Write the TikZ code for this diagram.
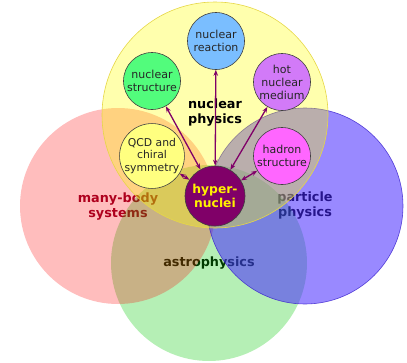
\documentclass[tikz,border=0pt]{standalone}
\usepackage{fontspec}
\setmainfont{DejaVu Sans}
\usepackage{tikz}
\usetikzlibrary{arrows.meta}
\usepackage{xcolor}
\definecolor{npyellow}{RGB}{255,255,0}
\definecolor{npline}{RGB}{230,215,70}
\definecolor{mbred}{RGB}{255,0,0}
\definecolor{mbtext}{RGB}{147,0,40}
\definecolor{astrogreen}{RGB}{0,200,0}
\definecolor{ppblue}{RGB}{70,40,255}
\definecolor{satblue}{RGB}{122,190,255}
\definecolor{satgreen}{RGB}{82,252,124}
\definecolor{satviolet}{RGB}{210,122,248}
\definecolor{satyellow}{RGB}{255,255,128}
\definecolor{satmagenta}{RGB}{255,102,255}
\definecolor{hyperpurple}{RGB}{128,0,104}
\begin{document}
\begin{tikzpicture}[x=1pt,y=-1pt,>={Stealth[length=6pt,width=4.5pt]},line cap=round,
  sat/.style={circle,draw=black!75,line width=0.6pt,minimum size=57pt,inner sep=0pt,
    align=center,font=\fontsize{11}{13}\selectfont,text=black!85},
  field/.style={align=center,inner sep=0pt,font=\fontsize{12.8}{15}\selectfont\bfseries},
  link/.style={<->,draw=hyperpurple,line width=1.3pt}]
\useasboundingbox (0,0) rectangle (407,362);
% field labels, lying under the circles
\node[field,text=mbtext] (manybody) at (118,207) {many-body\\systems};
\node[field] (particle) at (305,206) {particle\\physics};
\node[field] (astro) at (209,263) {astrophysics};
% the four fields
\fill[astrogreen,fill opacity=0.29] (209,263) circle (98pt);
\fill[mbred,fill opacity=0.26] (118,206) circle (98pt);
\filldraw[fill=ppblue,fill opacity=0.55,draw=ppblue!80!black,draw opacity=0.8,line width=0.6pt] (305,206) circle (98pt);
\filldraw[fill=npyellow,fill opacity=0.32,draw=npline,line width=0.6pt] (215,115) circle (113pt);
\node[field] (nucphys) at (215,113) {nuclear\\physics};
% topics
\node[sat,fill=satblue] (reaction) at (216,41) {nuclear\\reaction};
\node[sat,fill=satgreen] (structure) at (152,81) {nuclear\\structure};
\node[sat,fill=satviolet] (medium) at (282,82) {hot\\nuclear\\medium};
\node[sat,fill=satyellow,font=\fontsize{10.8}{12.2}\selectfont] (qcd) at (152,156) {QCD and\\chiral\\symmetry};
\node[sat,fill=satmagenta] (hadron) at (282,156) {hadron\\structure};
\node[circle,draw=black!75,line width=0.6pt,fill=hyperpurple,minimum size=60pt,inner sep=0pt,
  align=center,text=yellow,font=\fontsize{12.3}{14}\selectfont\bfseries] (hyper) at (215,196) {hyper-\\nuclei};
\foreach \t in {reaction,structure,medium,qcd,hadron}
  \draw[link] (hyper) -- (\t);
\end{tikzpicture}
\end{document}
